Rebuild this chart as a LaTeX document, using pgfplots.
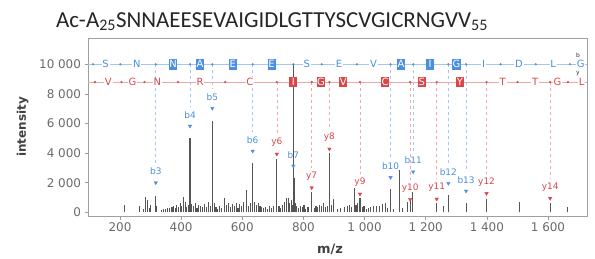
\documentclass[border=0pt]{standalone}
\usepackage{pgfplots}
\pgfplotsset{compat=1.18}
\usepackage{pgfplotstable}
\usepackage{fontspec}
\setmainfont{DejaVu Sans}
\newfontfamily\titlefont{Carlito}
\definecolor{bblue}{HTML}{4A8FE0}
\definecolor{yred}{HTML}{D9474A}
\definecolor{bblueL}{HTML}{A6C7EF}
\definecolor{yredL}{HTML}{EFA8A8}
\definecolor{tickgray}{HTML}{6A6A6A}
\definecolor{peakc}{HTML}{555555}

\pgfplotstableread{
mz h
214 500
265 430
276 250
282 1010
290 830
296 300
301 500
315 1100
320 400
335 180
342 250
350 220
356 300
363 280
370 350
376 420
381 300
386 520
392 380
397 600
402 450
409 1050
414 700
418 350
423 500
429 5000
434 550
440 400
446 650
452 300
458 500
464 420
470 350
476 550
482 380
488 700
495 450
502 6200
508 600
514 350
520 250
526 450
532 320
543 990
549 500
556 600
562 350
568 550
574 420
580 650
586 300
592 580
598 400
604 720
614 1500
620 450
626 600
634 3350
640 700
646 500
652 650
658 420
664 380
670 300
676 350
682 250
690 400
696 300
702 450
713 3580
720 400
726 300
732 500
738 700
745 940
751 990
755 600
760 800
763 500
767 9950
769 2300
773 650
778 400
784 300
790 450
796 350
802 500
808 250
815 380
827 1390
835 300
841 450
847 350
853 500
859 400
865 600
871 350
878 450
885 3990
892 500
898 900
910 250
920 300
935 350
945 400
952 500
958 350
967 1620
972 500
978 600
985 940
992 350
998 400
1005 250
1012 300
1020 350
1030 400
1040 450
1050 400
1058 550
1067 650
1075 300
1085 1570
1095 250
1114 2860
1125 300
1140 720
1149 880
1157 1390
1236 600
1258 430
1274 1170
1332 600
1399 880
1506 720
1607 600
1663 380
}\peaks

% b ions: position, marker intensity, label
\pgfplotstableread{
x y l
317 2000 b3
429 5830 b4
502 7030 b5
634 4140 b6
767 3130 b7
1085 2360 b10
1159 2740 b11
1274 1960 b12
1332 1440 b13
}\bions

\pgfplotstableread{
x y l
713 3940 y6
827 1660 y7
885 4280 y8
985 1240 y9
1149 880 y10
1236 900 y11
1399 1280 y12
1607 950 y14
}\yions

\pgfplotstableread{
x y l
317 2760 b3
429 6590 b4
502 7790 b5
634 4900 b6
767 3890 b7
1085 3120 b10
1159 3500 b11
1274 2720 b12
1332 2200 b13
}\blabels

\pgfplotstableread{
x y l
713 4720 y6
827 2440 y7
885 5060 y8
985 2020 y9
1149 1660 y10
1236 1680 y11
1399 2060 y12
1607 1730 y14
}\ylabels

\pgfplotstableread{
x y l
153 10000 S
255 10000 N
811 10000 S
916 10000 E
1029 10000 V
1389 10000 I
1505 10000 D
1617 10000 L
1707 10000 G
}\blet
\pgfplotstableread{
x y l
374 10000 N
462 10000 A
569 10000 E
696 10000 E
1119 10000 A
1214 10000 I
1301 10000 G
}\bletbox
\pgfplotstableread{
x y l
162 8800 V
241 8800 G
322 8800 N
462 8800 R
625 8800 C
1452 8800 T
1558 8800 T
1631 8800 G
1710 8800 L
}\ylet
\pgfplotstableread{
x y l
767 8800 I
857 8800 G
930 8800 V
1067 8800 C
1187 8800 S
1312 8800 Y
}\yletbox
\pgfplotstableread{
x y
112 10000
201 10000
317 10000
429 10000
502 10000
634 10000
767 10000
860 10000
975 10000
1085 10000
1159 10000
1274 10000
1332 10000
1445 10000
1560 10000
1672 10000
}\bdots
\pgfplotstableread{
x y
118 8800
205 8800
280 8800
390 8800
544 8800
713 8800
827 8800
885 8800
985 8800
1149 8800
1236 8800
1399 8800
1500 8800
1607 8800
1665 8800
}\ydots
\pgfplotstableread{
x y l
1698 10630 b
1698 9410 y
}\rowtags

\begin{document}
\begin{tikzpicture}[x=1bp,y=1bp]
\useasboundingbox (0,0) rectangle (595,258);
\node[font=\titlefont\fontsize{23}{25}\selectfont, anchor=base, inner sep=0pt, text=black!85] at (272,231) {Ac-A\textsubscript{25}SNNAEESEVAIGIDLGTTYSCVGICRNGVV\textsubscript{55}};
\begin{axis}[
  at={(88bp,42bp)}, anchor=south west, scale only axis,
  width=499bp, height=178bp,
  xmin=95.3, xmax=1727.6, ymin=-250, ymax=11777,
  clip=false,
  scaled ticks=false,
  axis line style={draw=gray!75, line width=0.7bp},
  tick style={draw=gray!75, line width=0.6bp},
  tick align=outside, major tick length=3.5bp,
  tick pos=left,
  xtick={200,400,...,1600}, ytick={0,2000,...,10000},
  tick label style={font=\fontsize{12}{12}\selectfont, text=tickgray},
  /pgf/number format/assume math mode=true,
  /pgf/number format/1000 sep={\ },
]
% dashed guide lines
\addplot[bblueL, dashed, line width=0.6bp, unbounded coords=jump] coordinates {
(317,10000) (317,3300) (317,nan)
(429,10000) (429,7130) (429,nan)
(502,10000) (502,8330) (502,nan)
(634,10000) (634,5440) (634,nan)
(767,10000) (767,4430) (767,nan)
(1085,10000) (1085,3660) (1085,nan)
(1159,10000) (1159,4040) (1159,nan)
(1274,10000) (1274,3260) (1274,nan)
(1332,10000) (1332,2740)
};
\addplot[yredL, dashed, line width=0.6bp, unbounded coords=jump] coordinates {
(713,8800) (713,5260) (713,nan)
(827,8800) (827,2980) (827,nan)
(885,8800) (885,5600) (885,nan)
(985,8800) (985,2560) (985,nan)
(1149,8800) (1149,2200) (1149,nan)
(1236,8800) (1236,2220) (1236,nan)
(1399,8800) (1399,2600) (1399,nan)
(1607,8800) (1607,2270)
};
% spectrum
\addplot[ycomb, peakc, line width=1.1bp] table[x=mz, y=h] {\peaks};
% sequence rows
\addplot[bblueL, line width=0.8bp] coordinates {(95.3,10000) (1727.6,10000)};
\addplot[yredL, line width=0.8bp] coordinates {(95.3,8800) (1727.6,8800)};
\addplot[only marks, mark=*, mark size=0.9bp, mark options={fill=bblue, draw=bblue}] table {\bdots};
\addplot[only marks, mark=*, mark size=0.9bp, mark options={fill=yred, draw=yred}] table {\ydots};
\addplot[draw=none, mark=none, nodes near coords, point meta=explicit symbolic,
  nodes near coords align={center},
  nodes near coords style={font=\fontsize{10}{10}\selectfont, text=bblue, fill=white, inner sep=0.8bp}]
  table[meta=l] {\blet};
\addplot[draw=none, mark=none, nodes near coords, point meta=explicit symbolic,
  nodes near coords align={center},
  nodes near coords style={font=\fontsize{10}{10}\selectfont, text=white, fill=bblue, inner sep=0.5bp, minimum width=8bp, minimum height=11.5bp}]
  table[meta=l] {\bletbox};
\addplot[draw=none, mark=none, nodes near coords, point meta=explicit symbolic,
  nodes near coords align={center},
  nodes near coords style={font=\fontsize{10}{10}\selectfont, text=yred, fill=white, inner sep=0.8bp}]
  table[meta=l] {\ylet};
\addplot[draw=none, mark=none, nodes near coords, point meta=explicit symbolic,
  nodes near coords align={center},
  nodes near coords style={font=\fontsize{10}{10}\selectfont, text=white, fill=yred, inner sep=0.5bp, minimum width=8bp, minimum height=10.5bp}]
  table[meta=l] {\yletbox};
\addplot[draw=none, mark=none, nodes near coords, point meta=explicit symbolic,
  nodes near coords align={center},
  nodes near coords style={font=\fontsize{6}{6}\selectfont, text=black!80, inner sep=0pt}]
  table[meta=l] {\rowtags};
% ion markers and labels
\addplot[only marks, mark=triangle*, mark size=2bp, mark options={rotate=180, fill=bblue, draw=bblue}] table {\bions};
\addplot[only marks, mark=triangle*, mark size=2bp, mark options={rotate=180, fill=yred, draw=yred}] table {\yions};
\addplot[draw=none, mark=none, nodes near coords, point meta=explicit symbolic,
  nodes near coords align={center},
  nodes near coords style={font=\fontsize{9}{9}\selectfont, text=bblue, inner sep=0pt}]
  table[meta=l] {\blabels};
\addplot[draw=none, mark=none, nodes near coords, point meta=explicit symbolic,
  nodes near coords align={center},
  nodes near coords style={font=\fontsize{9}{9}\selectfont, text=yred, inner sep=0pt}]
  table[meta=l] {\ylabels};
\end{axis}
\node[font=\bfseries\fontsize{13}{13}\selectfont, text=black!75] at (330,9) {m/z};
\node[font=\bfseries\fontsize{12}{12}\selectfont, text=black!75, rotate=90] at (22.5,131) {intensity};
\end{tikzpicture}
\end{document}
